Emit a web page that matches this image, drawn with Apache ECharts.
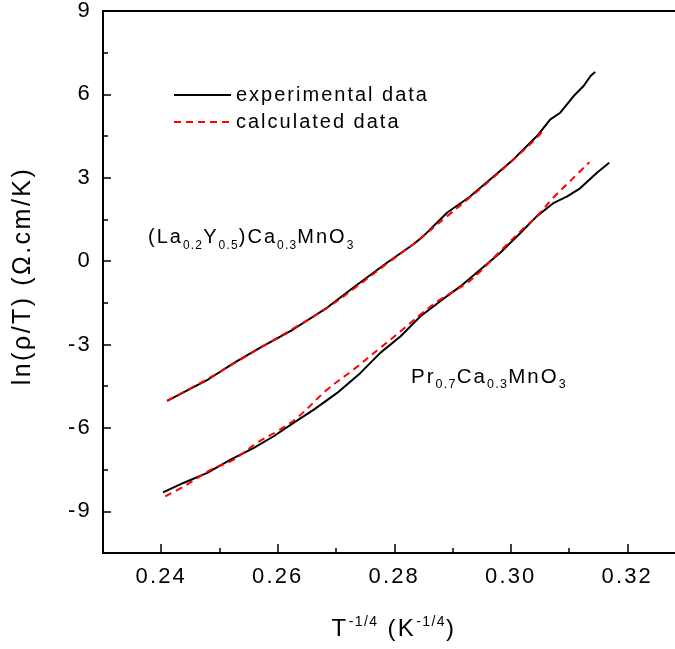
<!DOCTYPE html>
<html><head><meta charset="utf-8">
<script src="https://cdn.jsdelivr.net/npm/echarts@6/dist/echarts.min.js"></script>
<style>html,body{margin:0;padding:0;background:#fff}#c{width:675px;height:649px}</style>
</head><body><div id="c"></div>
<script>
// ---- tick labels ----
const xTicks = [0.24, 0.26, 0.28, 0.30, 0.32];
const xMinorTicks = [0.25, 0.27, 0.29, 0.31, 0.33];
const yTicks = [-9, -6, -3, 0, 3, 6, 9];
const yMinorTicks = [-7.5, -4.5, -1.5, 1.5, 4.5, 7.5];

// ---- (La0.2Y0.5)Ca0.3MnO3 ----
const upperExpX = [0.2410, 0.2481, 0.2525, 0.2570, 0.2627, 0.2685, 0.2730, 0.2788, 0.2833, 0.2850, 0.2891, 0.2928, 0.2965, 0.3005, 0.3045, 0.3068, 0.3085, 0.3108, 0.3125, 0.3137, 0.3145];
const upperExpY = [-5.03, -4.25, -3.66, -3.11, -2.45, -1.67, -0.95, -0.05, 0.61, 0.90, 1.75, 2.29, 2.95, 3.67, 4.50, 5.10, 5.34, 5.94, 6.30, 6.66, 6.81];
const upperCalcX = [0.2410, 0.2481, 0.2525, 0.2570, 0.2627, 0.2685, 0.2730, 0.2788, 0.2833, 0.2891, 0.2928, 0.2965, 0.3005, 0.3045, 0.3059];
const upperCalcY = [-5.03, -4.22, -3.68, -3.12, -2.42, -1.68, -1.00, -0.08, 0.62, 1.62, 2.26, 2.92, 3.66, 4.45, 4.80];

// ---- Pr0.7Ca0.3MnO3 ----
const lowerExpX = [0.2403, 0.2438, 0.2479, 0.2519, 0.2559, 0.2593, 0.2627, 0.2662, 0.2702, 0.2742, 0.2776, 0.2811, 0.2845, 0.2879, 0.2914, 0.2948, 0.2982, 0.3017, 0.3045, 0.3074, 0.3097, 0.3119, 0.3148, 0.3169];
const lowerExpY = [-8.32, -7.98, -7.62, -7.14, -6.72, -6.30, -5.82, -5.34, -4.74, -4.02, -3.30, -2.70, -1.98, -1.44, -0.90, -0.30, 0.30, 1.02, 1.62, 2.10, 2.33, 2.62, 3.18, 3.54];
const lowerCalcX = [0.2407, 0.2444, 0.2484, 0.2524, 0.2564, 0.2599, 0.2633, 0.2685, 0.2730, 0.2776, 0.2811, 0.2845, 0.2879, 0.2925, 0.2948, 0.2982, 0.3017, 0.3045, 0.3072, 0.3102, 0.3135];
const lowerCalcY = [-8.46, -8.04, -7.52, -7.14, -6.54, -6.12, -5.64, -4.62, -3.90, -3.12, -2.52, -1.92, -1.38, -0.78, -0.36, 0.36, 1.08, 1.62, 2.26, 2.88, 3.56];

const seriesNames = ['experimental data', 'calculated data'];
const FONT = "'Liberation Sans', Arial, Helvetica, sans-serif";

// letter spacing like the original figure text
const LS = 0.1;
function lsFor(font) { const m = /([\d.]+)px/.exec(font || ''); return m ? parseFloat(m[1]) * LS : 0; }
const _fill = CanvasRenderingContext2D.prototype.fillText;
CanvasRenderingContext2D.prototype.fillText = function (t, x, y, w) {
  if ('letterSpacing' in this) this.letterSpacing = lsFor(this.font) + 'px';
  return w === undefined ? _fill.call(this, t, x, y) : _fill.call(this, t, x, y, w);
};
const mctx = document.createElement('canvas').getContext('2d');
const hasLS = 'letterSpacing' in mctx;
if (echarts.setPlatformAPI) {
  echarts.setPlatformAPI({
    measureText(text, font) {
      mctx.font = font || '12px sans-serif';
      if (hasLS) mctx.letterSpacing = '0px';
      const w = mctx.measureText(text).width;
      return { width: w + (hasLS ? lsFor(mctx.font) * Array.from(String(text)).length : 0) };
    }
  });
}

function pairs(xs, ys) { return xs.map((x, i) => [x, ys[i]]); }

const chart = echarts.init(document.getElementById('c'), null, { renderer: 'canvas' });
const axisCommon = { splitLine: { show: false } };
chart.setOption({
  animation: false,
  backgroundColor: '#fff',
  grid: { left: 103, top: 11, width: 582.5, height: 542, show: true, borderColor: '#000', borderWidth: 2, containLabel: false, outerBoundsMode: 'none' },
  legend: {
    data: seriesNames, orient: 'vertical', left: 173, top: 84, padding: 0,
    itemWidth: 57, itemHeight: 14, itemGap: 5,
    itemStyle: { opacity: 0 },
    textStyle: { fontSize: 20, color: '#000', fontFamily: FONT }
  },
  xAxis: [
    Object.assign({
      type: 'value', min: 0.23, max: 0.33, position: 'bottom',
      axisLine: { show: true, onZero: false, lineStyle: { color: '#000', width: 2 } },
      axisTick: { show: true, inside: true, length: 9, customValues: xTicks, lineStyle: { color: '#000', width: 1.5 } },
      axisLabel: { customValues: xTicks, formatter: v => v.toFixed(2), fontSize: 22, color: '#000', margin: 12, fontFamily: FONT }
    }, axisCommon),
    Object.assign({
      type: 'value', min: 0.23, max: 0.33, position: 'bottom',
      axisLine: { show: false, onZero: false },
      axisTick: { show: true, inside: true, length: 5, customValues: xMinorTicks, lineStyle: { color: '#000', width: 1.5 } },
      axisLabel: { show: false }
    }, axisCommon)
  ],
  yAxis: [
    Object.assign({
      type: 'value', min: -10.5, max: 9, position: 'left',
      axisLine: { show: true, onZero: false, lineStyle: { color: '#000', width: 2 } },
      axisTick: { show: true, inside: true, length: 8, customValues: yTicks, lineStyle: { color: '#000', width: 1.5 } },
      axisLabel: { customValues: yTicks, formatter: v => String(v), fontSize: 22, color: '#000', margin: 11, fontFamily: FONT }
    }, axisCommon),
    Object.assign({
      type: 'value', min: -10.5, max: 9, position: 'left',
      axisLine: { show: false, onZero: false },
      axisTick: { show: true, inside: true, length: 5, customValues: yMinorTicks, lineStyle: { color: '#000', width: 1.5 } },
      axisLabel: { show: false }
    }, axisCommon)
  ],
  series: [
    { name: seriesNames[0], type: 'line', symbol: 'none', data: pairs(upperExpX, upperExpY), lineStyle: { color: '#000', width: 2 }, itemStyle: { color: '#000' }, z: 2 },
    { name: seriesNames[0], type: 'line', symbol: 'none', data: pairs(lowerExpX, lowerExpY), lineStyle: { color: '#000', width: 2 }, itemStyle: { color: '#000' }, z: 2 },
    { name: seriesNames[1], type: 'line', symbol: 'none', smooth: 0.4, data: pairs(upperCalcX, upperCalcY), lineStyle: { color: '#ff0000', width: 2, type: [7, 5] }, itemStyle: { color: '#ff0000' }, z: 3 },
    { name: seriesNames[1], type: 'line', symbol: 'none', smooth: 0.4, data: pairs(lowerCalcX, lowerCalcY), lineStyle: { color: '#ff0000', width: 2, type: [7, 5] }, itemStyle: { color: '#ff0000' }, z: 3 }
  ],
  graphic: [
    { type: 'text', x: 23, y: 276, rotation: Math.PI / 2,
      style: { text: 'ln(ρ/T) (Ω.cm/K)', fontSize: 25, fontFamily: FONT, fill: '#000', align: 'center', verticalAlign: 'middle' } },
    { type: 'text', x: 394, y: 614,
      style: { text: 'T{p|-1/4} (K{p|-1/4})', fontSize: 24, lineHeight: 30, fontFamily: FONT, fill: '#000', align: 'center', verticalAlign: 'top',
        rich: { p: { fontSize: 14, lineHeight: 30, verticalAlign: 'top', fontFamily: FONT, fill: '#000' } } } },
    { type: 'text', x: 148, y: 222,
      style: { text: '(La{s|0.2}Y{s|0.5})Ca{s|0.3}MnO{s|3}', fontSize: 20, lineHeight: 30, fontFamily: FONT, fill: '#000', align: 'left', verticalAlign: 'top',
        rich: { s: { fontSize: 12, lineHeight: 30, verticalAlign: 'bottom', fontFamily: FONT, fill: '#000' } } } },
    { type: 'text', x: 411, y: 362,
      style: { text: 'Pr{s|0.7}Ca{s|0.3}MnO{s|3}', fontSize: 20.5, lineHeight: 30, fontFamily: FONT, fill: '#000', align: 'left', verticalAlign: 'top',
        rich: { s: { fontSize: 12.5, lineHeight: 30, verticalAlign: 'bottom', fontFamily: FONT, fill: '#000' } } } }
  ]
});
</script>
</body></html>
